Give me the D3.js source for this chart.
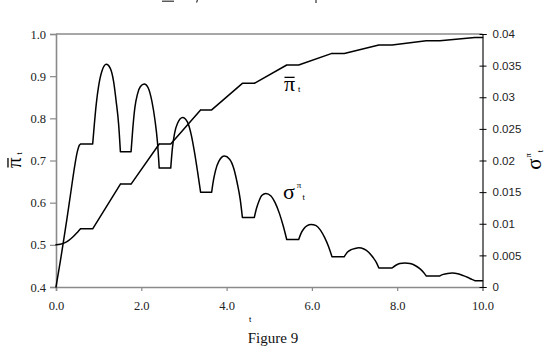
<!DOCTYPE html>
<html>
<head>
<meta charset="utf-8">
<script src="https://cdn.jsdelivr.net/npm/d3@7"></script>
<style>
  html, body { margin: 0; padding: 0; background: #fff; }
  svg { display: block; }
</style>
</head>
<body>
<svg id="chart" width="550" height="347"></svg>
<script>
// ---------- data ----------
const xTicks = [0, 2, 4, 6, 8, 10];
const leftTicks = [0.4, 0.5, 0.6, 0.7, 0.8, 0.9, 1.0];
const rightTicks = [0, 0.005, 0.01, 0.015, 0.02, 0.025, 0.03, 0.035, 0.04];

// mean belief  (left axis)
const piT = [0, 0.1, 0.2, 0.3, 0.4, 0.5, 0.575, 0.86, 1.51, 1.76, 2.42, 2.69, 3.39, 3.65, 4.37, 4.65, 5.41, 5.69, 6.47, 6.76, 7.57, 7.88, 8.68, 9.00, 9.82, 10];
const piV = [0.5, 0.5012, 0.5045, 0.5105, 0.519, 0.5295, 0.538, 0.538, 0.644, 0.644, 0.739, 0.739, 0.820, 0.820, 0.883, 0.883, 0.9265, 0.9265, 0.954, 0.954, 0.974, 0.974, 0.984, 0.984, 0.9915, 0.9915];

// sigma (right axis)
const sigmaT = [0, 0.1, 0.17, 0.25, 0.35, 0.44, 0.5, 0.545, 0.575,
  0.86, 0.90, 0.945, 1.00, 1.08, 1.18, 1.27, 1.35, 1.41, 1.47, 1.51,
  1.76, 1.80, 1.85, 1.91, 1.98, 2.07, 2.16, 2.25, 2.32, 2.38, 2.42,
  2.69, 2.73, 2.78, 2.85, 2.97, 3.08, 3.17, 3.25, 3.32, 3.39,
  3.65, 3.69, 3.74, 3.82, 3.95, 4.07, 4.17, 4.25, 4.32, 4.37,
  4.65, 4.70, 4.76, 4.83, 4.92, 5.04, 5.14, 5.24, 5.33, 5.41,
  5.69, 5.74, 5.81, 5.89, 5.98, 6.10, 6.20, 6.30, 6.39, 6.47,
  6.76, 6.83, 6.92, 7.01, 7.10, 7.22, 7.33, 7.43, 7.51, 7.57,
  7.88, 7.96, 8.06, 8.18, 8.30, 8.42, 8.53, 8.62, 8.68,
  9.00, 9.08, 9.18, 9.29, 9.42, 9.55, 9.66, 9.75, 9.82,
  10];
const sigmaV = [0, 0.004, 0.007, 0.0105, 0.0151, 0.0192, 0.0214, 0.0224, 0.0226,
  0.0226, 0.0258, 0.0290, 0.0318, 0.0342, 0.0352, 0.0346, 0.0325, 0.0294, 0.0256, 0.0214,
  0.0214, 0.0250, 0.0284, 0.0305, 0.0317, 0.0321, 0.0315, 0.0293, 0.0264, 0.0228, 0.0188,
  0.0188, 0.0220, 0.0243, 0.0259, 0.0268, 0.0261, 0.0241, 0.0212, 0.0182, 0.0150,
  0.0150, 0.0168, 0.0184, 0.0199, 0.0207, 0.0202, 0.0187, 0.0164, 0.0138, 0.0110,
  0.0110, 0.0124, 0.0136, 0.0145, 0.0148, 0.0144, 0.0133, 0.0116, 0.0096, 0.0075,
  0.0075, 0.0084, 0.0092, 0.0097, 0.0099, 0.0097, 0.0090, 0.0078, 0.0064, 0.0048,
  0.0048, 0.0055, 0.0059, 0.0061, 0.0062, 0.0060, 0.0055, 0.0047, 0.0039, 0.0030,
  0.0030, 0.0034, 0.0037, 0.0038, 0.0037, 0.0034, 0.0029, 0.0023, 0.00175,
  0.00175, 0.0020, 0.00215, 0.0022, 0.0021, 0.0018, 0.0015, 0.0012, 0.0010,
  0.0010];

// ---------- layout ----------
const svg = d3.select("#chart");
const L = 56, R = 482.5, T = 34, B = 287;
const x = d3.scaleLinear().domain([0, 10]).range([L, R]);
const yL = d3.scaleLinear().domain([0.4, 1.0]).range([B, T]);
const yR = d3.scaleLinear().domain([0, 0.04]).range([B, T]);
const gray = "#8a8a8a";
const serif = "'Liberation Serif', 'Times New Roman', serif";
const sans = "'Liberation Sans', Arial, sans-serif";

// faint stroke remnants of a heading cut off above the figure
const rem = svg.append("g").attr("stroke", "#333").attr("stroke-width", 1.2).attr("fill", "none");
rem.append("line").attr("x1", 162).attr("x2", 174).attr("y1", 1.2).attr("y2", 1.2);
rem.append("line").attr("x1", 197.5).attr("x2", 196.5).attr("y1", 0).attr("y2", 2.5);
rem.append("line").attr("x1", 316).attr("x2", 316).attr("y1", 0).attr("y2", 3);

// top frame line
svg.append("line").attr("x1", L).attr("x2", R).attr("y1", T).attr("y2", T)
  .attr("stroke", gray).attr("stroke-width", 1.6);

// left axis
const gL = svg.append("g").attr("transform", `translate(${L},0)`)
  .call(d3.axisLeft(yL).tickValues(leftTicks).tickFormat(d3.format(".1f")).tickSize(6).tickPadding(4));
gL.select(".domain").attr("stroke", gray).attr("stroke-width", 1.6);
gL.selectAll(".tick line").attr("stroke", gray).attr("stroke-width", 1.2);
gL.selectAll("text").attr("font-family", serif).attr("font-size", 12.5).attr("fill", "#222");

// bottom axis
const gB = svg.append("g").attr("transform", `translate(0,${B})`)
  .call(d3.axisBottom(x).tickValues(xTicks).tickFormat(d3.format(".1f")).tickSize(4).tickPadding(10));
gB.select(".domain").attr("stroke", gray).attr("stroke-width", 1.6);
gB.selectAll(".tick line").attr("stroke", gray).attr("stroke-width", 1.2);
gB.selectAll("text").attr("font-family", serif).attr("font-size", 12.5).attr("fill", "#222");

// right axis
const gR = svg.append("g").attr("transform", `translate(${R},0)`)
  .call(d3.axisRight(yR).tickValues(rightTicks).tickFormat(d => String(+d.toFixed(3))).tickSize(4).tickPadding(6));
gR.select(".domain").attr("stroke", "#000").attr("stroke-width", 1.1);
gR.selectAll(".tick line").attr("x1", -3).attr("x2", 4).attr("stroke", "#000");
gR.selectAll("text").attr("font-family", sans).attr("font-size", 11.5).attr("fill", "#222");

// ---------- curves ----------
function pieces(ts, vs) {
  const pts = ts.map((t, i) => [t, vs[i]]);
  const out = [];
  let cur = [pts[0]];
  for (let i = 1; i < pts.length; i++) {
    if (pts[i][1] === pts[i - 1][1]) {
      if (cur.length > 1) out.push(cur);
      out.push([pts[i - 1], pts[i]]);
      cur = [pts[i]];
    } else cur.push(pts[i]);
  }
  if (cur.length > 1) out.push(cur);
  return out;
}
function drawSeries(ts, vs, yScale) {
  const line = d3.line().x(d => x(d[0])).y(d => yScale(d[1])).curve(d3.curveMonotoneX);
  const d = pieces(ts, vs).map(p => line(p)).join("");
  svg.append("path").attr("d", d).attr("fill", "none").attr("stroke", "#000")
    .attr("stroke-width", 1.5).attr("stroke-linejoin", "round").attr("stroke-linecap", "round");
}
drawSeries(piT, piV, yL);
drawSeries(sigmaT, sigmaV, yR);

// ---------- labels ----------
// pi with a bar drawn just above the glyph
function barPi(g, size, subSize) {
  const t = g.append("text").attr("font-family", serif);
  const p = t.append("tspan").attr("font-size", size).text("π");
  t.append("tspan").attr("font-size", subSize).attr("font-family", sans)
    .attr("dx", 3).attr("dy", 1).text("t");
  const w = p.node().getComputedTextLength();
  g.append("line").attr("x1", 0.5).attr("x2", w - 0.5)
    .attr("y1", -size * 0.62).attr("y2", -size * 0.62)
    .attr("stroke", "#000").attr("stroke-width", 1.3);
}

// left axis title
const lt = svg.append("g").attr("transform", "translate(21,168) rotate(-90)");
barPi(lt, 21, 7);

// right axis title
const rt = svg.append("text").attr("transform", "translate(541,160) rotate(-90)")
  .attr("font-family", serif).attr("text-anchor", "middle");
rt.append("tspan").attr("font-size", 21).text("σ");
rt.append("tspan").attr("font-size", 8).attr("dx", 1).attr("dy", -10).text("π");
rt.append("tspan").attr("font-size", 7).attr("font-family", sans).attr("dx", 1).attr("dy", 12).text("t");

// in-plot labels
const p1 = svg.append("g").attr("transform", "translate(284,91)");
barPi(p1, 22, 8);

const p2 = svg.append("text").attr("x", 283).attr("y", 199).attr("font-family", serif);
p2.append("tspan").attr("font-size", 22).text("σ");
p2.append("tspan").attr("font-size", 9).attr("dx", 2).attr("dy", -11).text("π");
p2.append("tspan").attr("font-size", 8).attr("font-family", sans).attr("dx", 1).attr("dy", 12).text("t");

// x-axis title
svg.append("text").attr("x", 250).attr("y", 322).attr("text-anchor", "middle")
  .attr("font-family", sans).attr("font-size", 8).text("t");

// caption
svg.append("text").attr("x", 273).attr("y", 343).attr("text-anchor", "middle")
  .attr("font-family", serif).attr("font-size", 15).attr("fill", "#111").text("Figure 9");
</script>
</body>
</html>
